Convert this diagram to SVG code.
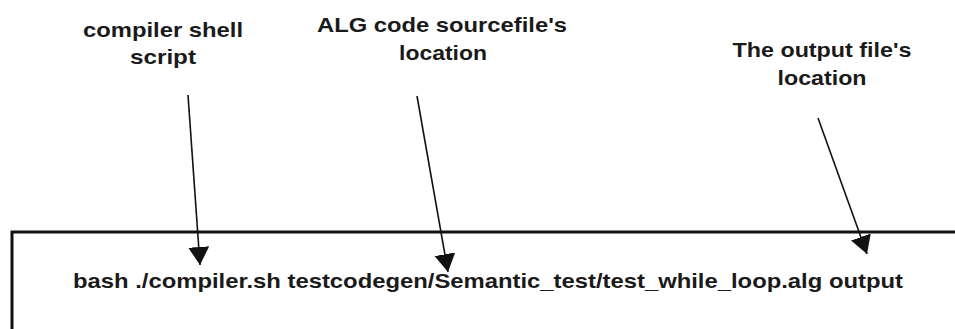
<svg xmlns="http://www.w3.org/2000/svg" width="955" height="329" viewBox="0 0 955 329">
<style>
  .lbl { font-family: "Liberation Sans", Arial, sans-serif; font-weight: bold; font-size: 21px; fill: #1a1a1a; }
  .edge { stroke: #111; stroke-width: 1.6; fill: none; marker-end: url(#head); }
</style>
<defs>
  <marker id="head" markerUnits="userSpaceOnUse" markerWidth="20" markerHeight="22" refX="18" refY="10.5" orient="auto">
    <path d="M0,0 L18,10.5 L0,21 Z" fill="#111"/>
  </marker>
</defs>
<rect width="955" height="329" fill="#fff"/>
<g id="command-box">
  <rect x="12" y="232" width="960" height="140" fill="#fff" stroke="#111" stroke-width="3"/>
  <text class="lbl" x="73" y="288" textLength="830" lengthAdjust="spacingAndGlyphs">bash ./compiler.sh testcodegen/Semantic_test/test_while_loop.alg output</text>
</g>
<g id="label-compiler">
  <text class="lbl" x="163" y="37" text-anchor="middle" textLength="160" lengthAdjust="spacingAndGlyphs">compiler shell</text>
  <text class="lbl" x="163" y="64" text-anchor="middle" textLength="66" lengthAdjust="spacingAndGlyphs">script</text>
</g>
<g id="label-source">
  <text class="lbl" x="442" y="32" text-anchor="middle" textLength="250" lengthAdjust="spacingAndGlyphs">ALG code sourcefile's</text>
  <text class="lbl" x="443" y="60" text-anchor="middle" textLength="88" lengthAdjust="spacingAndGlyphs">location</text>
</g>
<g id="label-output">
  <text class="lbl" x="822" y="57" text-anchor="middle" textLength="179" lengthAdjust="spacingAndGlyphs">The output file's</text>
  <text class="lbl" x="822" y="85" text-anchor="middle" textLength="89" lengthAdjust="spacingAndGlyphs">location</text>
</g>
<g id="connectors">
  <line class="edge" x1="188" y1="95" x2="200" y2="265"/>
  <line class="edge" x1="417" y1="96" x2="448" y2="272"/>
  <line class="edge" x1="818" y1="118" x2="867" y2="254"/>
</g>
</svg>
